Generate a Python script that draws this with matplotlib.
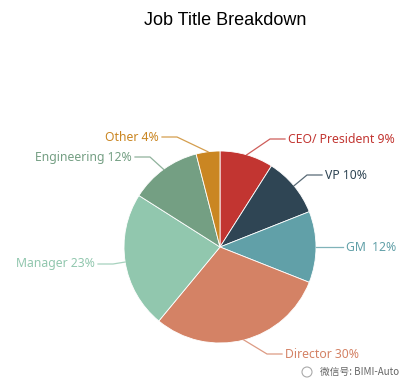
import numpy as np
import matplotlib.pyplot as plt

titles = ['CEO/ President', 'VP', 'GM ', 'Director', 'Manager', 'Engineering', 'Other']
shares = [9, 10, 12, 30, 23, 12, 4]
colors = ['#c23531', '#2f4554', '#61a0a8', '#d48265', '#91c7ae', '#749f83', '#ca8622']

# изгибы лидер-линий (раскладка подписей, в пикселях)
elbows = [(270, 139), (307, 175), (328, 247), (267, 354), (113, 264), (150, 157), (177, 137)]

fig = plt.figure(figsize=(4.13, 3.89), dpi=100)
ax = fig.add_axes([0, 0, 1, 1])

cx, cy, r = 220, 247, 96
# ось y перевёрнута (пиксели), поэтому старт -90 и против часовой = визуально по часовой сверху
wedges, _ = ax.pie(shares, colors=colors, startangle=-90, counterclock=True,
                   center=(cx, cy), radius=r,
                   wedgeprops=dict(edgecolor='white', linewidth=0.6))
ax.set_xlim(0, 413)
ax.set_ylim(389, 0)
ax.set_aspect('equal')
ax.axis('off')

for w, name, val, col, (x1, y1) in zip(wedges, titles, shares, colors, elbows):
    ang = np.deg2rad((w.theta1 + w.theta2) / 2)
    x0, y0 = cx + r * np.cos(ang), cy + r * np.sin(ang)
    side = 1 if x1 >= cx else -1
    x2 = x1 + side * 15
    ax.plot([x0, x1, x2], [y0, y1, y1], color=col, lw=0.9, alpha=0.8)
    ax.text(x2 + side * 3, y1, f'{name} {val}%', color=col, fontsize=8.8,
            family='Noto Sans', ha='left' if side > 0 else 'right', va='center')

fig.text(0.545, 0.947, 'Job Title Breakdown', ha='center', va='center',
         fontsize=13, family='Liberation Sans')
fig.text(0.775, 0.043, '微信号: BIMI-Auto', ha='left', va='center', fontsize=7,
         color='#666666', family=['Noto Sans CJK SC', 'DejaVu Sans'])
ax.add_patch(plt.Circle((307, 372), 5, fill=False, ec='#aaaaaa', lw=0.8))

fig.savefig('out.png', dpi=100)
